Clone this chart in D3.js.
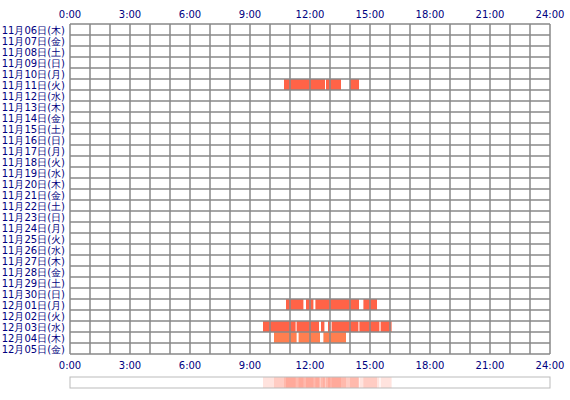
<!DOCTYPE html>
<html>
<head>
<meta charset="utf-8">
<script src="https://cdn.jsdelivr.net/npm/d3@7"></script>
<style>
  body { margin: 0; background: #fff; }
  text { font-family: "DejaVu Sans", sans-serif; font-size: 10px; fill: #000080; }
</style>
</head>
<body>
<svg id="chart" width="570" height="400"></svg>
<script>
const days = ["11月06日(木)","11月07日(金)","11月08日(土)","11月09日(日)","11月10日(月)","11月11日(火)",
  "11月12日(水)","11月13日(木)","11月14日(金)","11月15日(土)","11月16日(日)","11月17日(月)","11月18日(火)",
  "11月19日(水)","11月20日(木)","11月21日(金)","11月22日(土)","11月23日(日)","11月24日(月)","11月25日(火)",
  "11月26日(水)","11月27日(木)","11月28日(金)","11月29日(土)","11月30日(日)","12月01日(月)","12月02日(火)",
  "12月03日(水)","12月04日(木)","12月05日(金)"];
const hourTicks = [0, 3, 6, 9, 12, 15, 18, 21, 24];
// sessions: [day index, start hour, end hour]
const sessions = [
  [5, 10.7, 12.75], [5, 12.8, 13.55], [5, 14.0, 14.45],
  [25, 10.8, 11.67], [25, 11.8, 12.17], [25, 12.27, 14.45], [25, 14.67, 15.35],
  [27, 9.65, 11.28], [27, 11.33, 12.45], [27, 12.55, 12.72], [27, 12.9, 13.02],
  [27, 13.08, 14.42], [27, 14.47, 15.47], [27, 15.53, 16.08],
  [28, 10.2, 11.33], [28, 11.43, 12.5], [28, 12.67, 13.8]
];
const rowColors = { 5: "#ff6347", 25: "#ff6347", 27: "#ff6347", 28: "#ff7f50" };

const svg = d3.select("#chart");
const x = d3.scaleLinear().domain([0, 24]).range([70, 550]);
const y = d3.scaleBand().domain(d3.range(days.length)).range([24, 354]);
const g = svg.append("g");

// sessions
g.selectAll(".s").data(sessions).enter().append("rect")
  .attr("x", d => x(d[1])).attr("width", d => x(d[2]) - x(d[1]))
  .attr("y", d => y(d[0])).attr("height", y.bandwidth())
  .attr("fill", d => rowColors[d[0]]);

// grid
g.selectAll(".v").data(d3.range(25)).enter().append("line")
  .attr("x1", d => x(d)).attr("x2", d => x(d)).attr("y1", 24).attr("y2", 354)
  .attr("stroke", "#888").attr("stroke-width", 1.5);
g.selectAll(".h").data(d3.range(days.length + 1)).enter().append("line")
  .attr("x1", 70).attr("x2", 550)
  .attr("y1", d => 24 + d * y.step()).attr("y2", d => 24 + d * y.step())
  .attr("stroke", "#888").attr("stroke-width", 1.5);

// labels
g.selectAll(".d").data(days).enter().append("text")
  .attr("x", 65).attr("y", (d, i) => y(i) + y.bandwidth() / 2 + 4)
  .attr("text-anchor", "end").text(d => d);
[18, 369].forEach(ty => {
  g.selectAll(null).data(hourTicks).enter().append("text")
    .attr("x", d => x(d)).attr("y", ty).attr("text-anchor", "middle")
    .text(d => d + ":00");
});

// overview strip
const strip = svg.append("g");
strip.selectAll("rect").data(sessions).enter().append("rect")
  .attr("x", d => x(d[1])).attr("width", d => x(d[2]) - x(d[1]))
  .attr("y", 377).attr("height", 11)
  .attr("fill", "#ff6347").attr("opacity", 0.18);
strip.append("rect").attr("x", 70).attr("y", 377).attr("width", 480).attr("height", 11)
  .attr("fill", "none").attr("stroke", "#bbb");
</script>
</body>
</html>
